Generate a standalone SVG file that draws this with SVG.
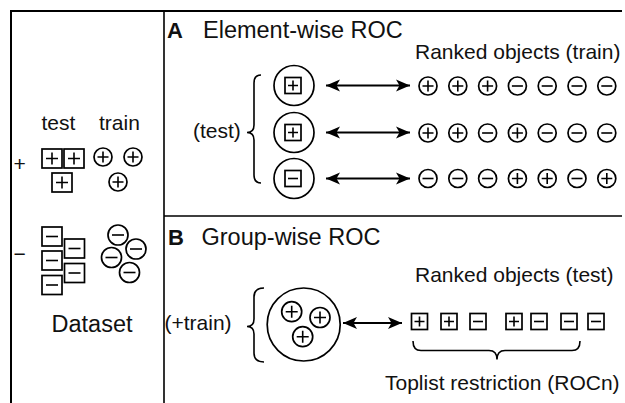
<svg xmlns="http://www.w3.org/2000/svg" xmlns:xlink="http://www.w3.org/1999/xlink" width="625" height="403" viewBox="0 0 625 403">
  <style>
    .frame { fill: none; stroke: #000; stroke-width: 2; }
    .div { fill: none; stroke: #000; stroke-width: 1.6; }
    .o { fill: none; stroke: #000; stroke-width: 1.7; }
    .sg { fill: none; stroke: #000; stroke-width: 1.6; }
    .br { fill: none; stroke: #000; stroke-width: 1.6; }
    .ar { fill: none; stroke: #000; stroke-width: 2; }
    text { font-family: "Liberation Sans", Arial, Helvetica, sans-serif; fill: #111; }
    .t21 { font-size: 21px; }
    .t23 { font-size: 23.5px; }
    .lbl { font-size: 22px; font-weight: bold; }
  </style>
  <defs>
    <!-- small square symbols (16 px) -->
    <g id="sp"><rect class="o" x="-8" y="-8" width="16" height="16"/><path class="sg" d="M-5,0H5M0,-5V5"/></g>
    <g id="sm"><rect class="o" x="-8" y="-8" width="16" height="16"/><path class="sg" d="M-5,0H5"/></g>
    <!-- larger square symbols (20 px) for the dataset -->
    <g id="sp20"><rect class="o" x="-10" y="-9.5" width="20" height="19"/><path class="sg" d="M-6,0H6M0,-6V6"/></g>
    <g id="sm20"><rect class="o" x="-10" y="-9.5" width="20" height="19"/><path class="sg" d="M-6,0H6"/></g>
    <!-- circle symbols -->
    <g id="cp"><circle class="o" r="9"/><path class="sg" d="M-5.5,0H5.5M0,-5.5V5.5"/></g>
    <g id="cm"><circle class="o" r="9"/><path class="sg" d="M-5.5,0H5.5"/></g>
    <g id="cm10"><circle class="o" r="10"/><path class="sg" d="M-6,0H6"/></g>
    <g id="cp10"><circle class="o" r="10"/><path class="sg" d="M-6,0H6M0,-6V6"/></g>
    <marker id="head" markerUnits="userSpaceOnUse" markerWidth="16" markerHeight="14" refX="14" refY="6.5" orient="auto-start-reverse" viewBox="0 0 16 14">
      <path d="M0,0.5 L14,6.5 L0,12.5 L3.5,6.5 z" fill="#000"/>
    </marker>
  </defs>

  <!-- frame and panel dividers -->
  <g id="frame">
    <path class="frame" d="M10,11 H622 M11,10 V403"/>
    <path class="div" d="M164,11 V403 M164,216 H622"/>
  </g>

  <!-- dataset panel -->
  <g id="dataset">
    <text class="t21" x="41.5" y="130">test</text>
    <text class="t21" x="99" y="130">train</text>
    <text class="t21" x="13.5" y="171">+</text>
    <use xlink:href="#sp20" x="52" y="158.5"/>
    <use xlink:href="#sp20" x="74" y="158.5"/>
    <use xlink:href="#sp20" x="62" y="182.5"/>
    <use xlink:href="#cp" x="103" y="157"/>
    <use xlink:href="#cp" x="133" y="157"/>
    <use xlink:href="#cp" x="118" y="182"/>
    <text class="t21" x="13.5" y="261">−</text>
    <use xlink:href="#sm20" x="52" y="236.5"/>
    <use xlink:href="#sm20" x="52" y="260.5"/>
    <use xlink:href="#sm20" x="52" y="285"/>
    <use xlink:href="#sm20" x="74.5" y="248.5"/>
    <use xlink:href="#sm20" x="74.5" y="273"/>
    <use xlink:href="#cm10" x="118" y="235"/>
    <use xlink:href="#cm10" x="136" y="249"/>
    <use xlink:href="#cm10" x="111.5" y="257.5"/>
    <use xlink:href="#cm10" x="129.5" y="272.5"/>
    <text class="t23" x="51.5" y="331.5">Dataset</text>
  </g>

  <!-- panel A: element-wise ROC -->
  <g id="panelA">
    <text class="lbl" x="167" y="38">A</text>
    <text class="t23" x="203" y="38">Element-wise ROC</text>
    <text class="t21" x="415" y="59">Ranked objects (train)</text>
    <text class="t21" x="193" y="138">(test)</text>
    <path class="br" d="M261,75 Q254,75 254,83 L254,125 Q254,132.5 247,132.5 Q254,132.5 254,140 L254,175 Q254,183 261,183"/>
  </g>

  <g id="testA1">
    <circle class="o" cx="294" cy="85.5" r="20"/>
    <use xlink:href="#sp" x="293" y="85.5"/>
  </g>
  <g id="testA2">
    <circle class="o" cx="294" cy="132.5" r="20"/>
    <use xlink:href="#sp" x="293" y="132.5"/>
  </g>
  <g id="testA3">
    <circle class="o" cx="294" cy="178.5" r="20"/>
    <use xlink:href="#sm" x="293" y="178.5"/>
  </g>

  <g id="rankA1">
    <use xlink:href="#cp" x="428" y="86"/>
    <use xlink:href="#cp" x="457.8" y="86"/>
    <use xlink:href="#cp" x="487.6" y="86"/>
    <use xlink:href="#cm" x="517.4" y="86"/>
    <use xlink:href="#cm" x="547.2" y="86"/>
    <use xlink:href="#cm" x="577" y="86"/>
    <use xlink:href="#cm" x="606.8" y="86"/>
  </g>
  <g id="rankA2">
    <use xlink:href="#cp" x="428" y="133"/>
    <use xlink:href="#cp" x="457.8" y="133"/>
    <use xlink:href="#cm" x="487.6" y="133"/>
    <use xlink:href="#cp" x="517.4" y="133"/>
    <use xlink:href="#cm" x="547.2" y="133"/>
    <use xlink:href="#cm" x="577" y="133"/>
    <use xlink:href="#cm" x="606.8" y="133"/>
  </g>
  <g id="rankA3">
    <use xlink:href="#cm" x="428" y="178.5"/>
    <use xlink:href="#cm" x="457.8" y="178.5"/>
    <use xlink:href="#cm" x="487.6" y="178.5"/>
    <use xlink:href="#cp" x="517.4" y="178.5"/>
    <use xlink:href="#cp" x="547.2" y="178.5"/>
    <use xlink:href="#cm" x="577" y="178.5"/>
    <use xlink:href="#cp" x="606.8" y="178.5"/>
  </g>

  <!-- panel B: group-wise ROC -->
  <g id="panelB">
    <text class="lbl" x="168" y="244.5">B</text>
    <text class="t23" x="201.5" y="244.5">Group-wise ROC</text>
    <text class="t21" x="164.5" y="330">(+train)</text>
    <text class="t21" x="415" y="282">Ranked objects (test)</text>
    <text class="t21" x="385" y="390">Toplist restriction (ROCn)</text>
    <path class="br" d="M264,288 Q254,288 254,297 L254,319 Q254,326.5 247,326.5 Q254,326.5 254,334 L254,353 Q254,362 264,362"/>
    <path class="br" d="M413,341 Q413,350.5 421,350.5 L489,350.5 Q497,350.5 497,359.5 Q497,350.5 505,350.5 L572,350.5 Q580,350.5 580,341"/>
  </g>

  <g id="trainGroup">
    <circle class="o" cx="303.7" cy="324.5" r="36.5"/>
    <use xlink:href="#cp10" x="291.7" y="311.7"/>
    <use xlink:href="#cp10" x="320" y="317.5"/>
    <use xlink:href="#cp10" x="302.7" y="336.7"/>
  </g>

  <g id="rankB">
    <use xlink:href="#sp" x="419.5" y="321.5"/>
    <use xlink:href="#sp" x="449" y="321.5"/>
    <use xlink:href="#sm" x="478" y="321.5"/>
    <use xlink:href="#sp" x="514" y="321.5"/>
    <use xlink:href="#sm" x="539" y="321.5"/>
    <use xlink:href="#sm" x="569" y="321.5"/>
    <use xlink:href="#sm" x="596" y="321.5"/>
  </g>

  <!-- double-headed connectors -->
  <g id="connectors">
    <line class="ar" x1="326" y1="85.5" x2="410" y2="85.5" marker-start="url(#head)" marker-end="url(#head)"/>
    <line class="ar" x1="326" y1="132.5" x2="410" y2="132.5" marker-start="url(#head)" marker-end="url(#head)"/>
    <line class="ar" x1="326" y1="178.5" x2="410" y2="178.5" marker-start="url(#head)" marker-end="url(#head)"/>
    <line class="ar" x1="343" y1="323" x2="402" y2="323" marker-start="url(#head)" marker-end="url(#head)"/>
  </g>
</svg>
